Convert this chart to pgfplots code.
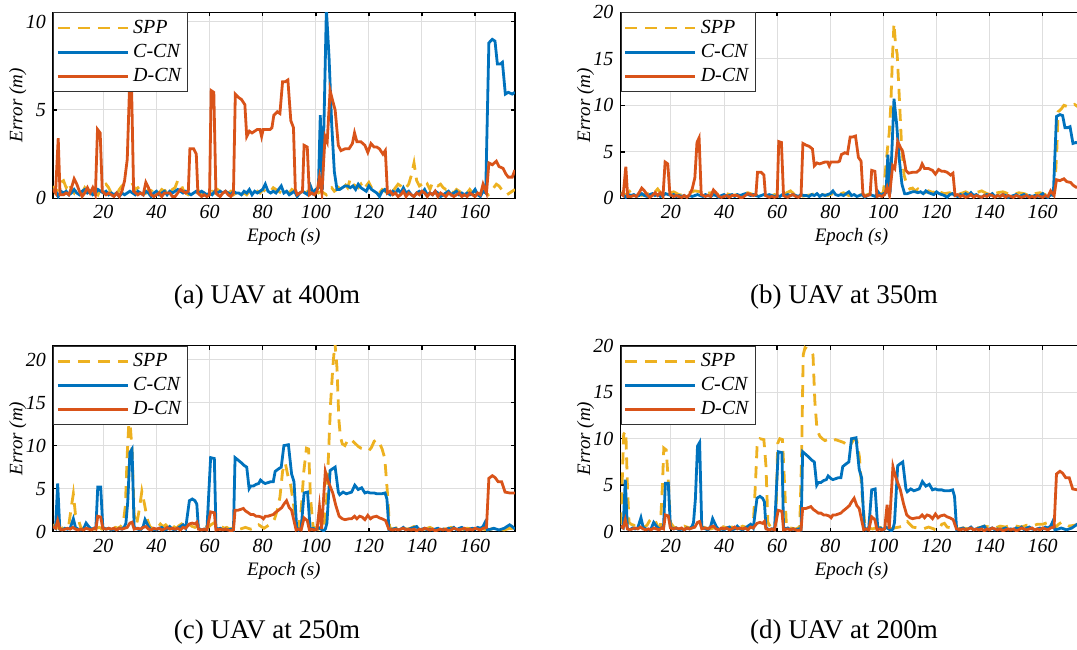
\documentclass[border=0pt]{standalone}
\usepackage{fontspec}
\setmainfont{Liberation Serif}
\usepackage{pgfplots}
\usepackage{pgfplotstable}
\pgfplotsset{compat=1.18}
\definecolor{cspp}{HTML}{EDB120}
\definecolor{cccn}{HTML}{0072BD}
\definecolor{cdcn}{HTML}{D95319}

% C-CN and D-CN for panels (a) and (b)
\pgfplotstableread{
x y
1 0.5
2 0.4
3 0.1
4 0.4
5 0.3
6 0.4
7 0.2
8 0.3
9 0.5
10 0.3
11 0.2
12 0.4
13 0.5
14 0.3
15 0.4
16 0.2
17 0.3
18 0.5
19 0.4
20 0.3
21 0.4
22 0.2
23 0.3
24 0.2
25 0.3
26 0.1
27 0.3
28 0.2
29 0.3
30 0.4
31 0.3
32 0.2
33 0.4
34 0.3
35 0.2
36 0.4
37 0.3
38 0.1
39 0.3
40 0.4
41 0.2
42 0.3
43 0.4
44 0.2
45 0.4
46 0.3
47 0.4
48 0.5
49 0.4
50 0.3
51 0.4
52 0.3
53 0.2
54 0.3
55 0.4
56 0.3
57 0.4
58 0.3
59 0.2
60 0.3
61 0.2
62 0.4
63 0.3
64 0.4
65 0.3
66 0.4
67 0.3
68 0.2
69 0.4
70 0.3
71 0.3
72 0.2
73 0.4
74 0.3
75 0.5
76 0.2
77 0.4
78 0.3
79 0.4
80 0.5
81 0.8
82 0.4
83 0.3
84 0.4
85 0.3
86 0.5
87 0.7
88 0.3
89 0.4
90 0.2
91 0.3
92 0.4
93 0.1
94 0.3
95 0.4
96 0.3
97 0.2
98 0.7
99 0.3
100 0.5
101 0.6
101.7 4.7
102.5 0.5
103.2 5.0
104 10.7
105 8.0
106 4.2
107 1.5
108 0.5
109 0.5
110 0.6
111 0.7
112 0.7
113 0.6
114 0.7
115 0.5
116 0.8
117 0.6
118 0.5
119 0.4
120 0.7
121 0.5
122 0.4
123 0.3
124 0.1
125 0.4
126 0.5
127 0.3
128 0.2
129 0.4
130 0.3
131 0.5
132 0.3
133 0.6
134 0.3
135 0.4
136 0.2
137 0.1
138 0.3
139 0.4
140 0.3
141 0.5
142 0.2
143 0.3
144 0.2
145 0.4
146 0.3
147 0.1
148 0.2
149 0.3
150 0.4
151 0.2
152 0.3
153 0.4
154 0.2
155 0.3
156 0.2
157 0.3
158 0.2
159 0.3
160 0.5
161 0.2
162 0.1
163 0.4
164 0.3
165.2 8.8
166.5 9.0
167.5 8.9
168.4 7.6
169.5 7.6
170.3 7.7
171.4 5.9
172.5 6.0
174 5.9
175 6.0
}\ccnab

\pgfplotstableread{
x y
1 0.5
2 0.3
3 3.4
3.7 0.2
5 0.2
6 0.3
7 0.2
8 0.6
9 1.1
10 0.8
11 0.4
12 0.1
13 0.3
14 0.6
15 0.3
16 0.6
17 0.2
17.8 3.9
18.8 3.7
19.6 0.4
21 0.2
22 0.3
23 0.2
24 0.1
25 0.3
26 0.1
27 0.4
28 1.0
29 2.2
29.8 6.0
30.6 6.5
31.4 0.4
33 0.2
34 0.3
35 0.2
36 0.9
37 0.6
38 0.2
39 0.1
40 0.2
41 0.3
42 0.1
43 0.3
44 0.3
45 0.3
46 0.1
47 0.1
48 0.3
49 0.5
50 0.4
51 0.3
52 0.4
52.6 2.8
54 2.8
55 2.5
55.6 0.3
57 0.1
58 0.2
59 0.1
60 0.2
60.6 6.1
61.6 6.0
62.4 0.3
63 0.2
64 0.1
65 0.3
66 0.4
67 0.2
68 0.1
69 0.3
69.7 5.9
71 5.7
72 5.6
73.3 5.3
74 3.5
75 3.8
76 3.7
77 3.8
78 3.9
79 3.9
79.6 3.5
80.2 3.9
81.5 3.9
82.8 3.9
83.5 4.0
84.2 4.7
85.5 4.9
86.5 4.8
87.5 6.6
88.5 6.6
89.5 6.7
90.6 4.4
91.6 4.0
92.3 0.5
93 0.2
94 0.3
95 0.4
95.6 3.0
96.8 2.9
97.6 0.2
98.5 0.3
99.5 0.2
100.5 0.4
101.4 1.2
102.3 0.3
103.5 3.5
104.3 3.2
105.4 6.1
106.4 5.5
107.3 5.0
108.5 3.0
109.5 2.7
111 2.8
112.5 2.8
113.8 3.1
114.6 3.7
115.5 3.2
117 3.2
118.5 3.0
119.6 2.6
120.8 3.1
122 2.9
123 2.9
124 2.8
125.3 2.5
126.2 2.7
127 0.3
128 0.4
129 0.2
130 0.3
131 0.1
132 0.2
133 0.4
134 0.1
135 0.3
136 0.2
137 0.1
138 0.3
139 0.2
140 0.4
141 0.3
142 0.1
143 0.3
144 0.2
145 0.4
146 0.1
147 0.3
148 0.2
149 0.1
150 0.3
151 0.2
152 0.1
153 0.2
154 0.3
155 0.1
156 0.2
157 0.1
158 0.3
159 0.2
160 0.1
161 0.3
162 0.2
163 0.8
164.3 0.3
165.2 2.0
166.5 1.9
168 2.1
169 1.8
170.5 1.7
171.5 1.4
172.5 1.2
174 1.2
175 1.6
}\dcnab

% SPP, panel (a)
\pgfplotstableread{
x y
1 0.7
2 0.3
3 0.5
4 0.9
5 1.0
6 0.6
7 0.9
8 0.5
9 0.3
10 0.6
11 0.4
12 0.3
13 0.6
14 0.4
15 0.5
16 0.3
17 0.4
18 0.2
19 0.5
20 0.7
21 0.8
22 0.6
23 0.3
24 0.4
25 0.2
26 0.5
27 0.7
28 0.8
29 0.8
30 0.7
31 0.8
32 0.5
33 0.6
34 0.4
35 0.5
36 0.3
37 0.5
38 0.4
39 0.6
40 0.4
41 0.3
42 0.5
43 0.4
44 0.5
45 0.3
46 0.5
47 0.6
48 1.0
49 0.9
50 0.5
51 0.3
52 0.2
53 0.3
54 0.2
55 0.3
56 0.4
57 0.2
58 0.3
59 0.2
60 0.3
61 0.4
62 0.3
63 0.5
64 0.4
65 0.3
66 0.2
67 0.3
68 0.4
69 0.2
70 0.3
71 0.4
72 0.2
73 0.3
74 0.2
75 0.4
76 0.3
77 0.5
78 0.4
79 0.3
80 0.5
81 0.4
82 0.3
83 0.4
84 0.6
85 0.5
86 0.4
87 0.3
88 0.5
89 0.4
90 0.3
91 0.5
92 0.4
93 0.3
94 0.5
95 0.4
96 0.3
97 0.4
98 0.2
99 0.3
100 0.4
101 0.3
102 0.4
103 0.3
104 0.2
105 0.5
106 0.6
107 0.4
108 0.5
109 0.7
110 0.9
111 0.8
112 0.6
113 1.1
114 0.8
115 0.7
116 0.6
117 0.8
118 0.5
119 0.7
120 0.9
121 0.6
122 0.5
123 0.4
124 0.3
125 0.5
126 0.4
127 0.3
128 0.5
129 0.4
130 0.6
131 0.8
132 0.7
133 0.5
134 0.6
135 0.8
136 1.3
137 2.0
138 1.0
139 0.7
140 0.8
141 0.6
142 0.8
143 0.5
144 0.9
145 0.8
146 0.7
147 0.8
148 0.6
149 0.5
150 0.6
151 0.4
152 0.3
153 0.5
154 0.4
155 0.3
156 0.4
157 0.3
158 0.5
159 0.3
160 0.4
161 0.2
162 0.3
163 0.5
164 0.3
165 0.2
166 0.4
167 0.6
168 0.8
169 0.7
170 0.5
171 0.3
172 0.2
173 0.3
174 0.4
175 0.5
}\sppa

% SPP, panel (b)
\pgfplotstableread{
x y
1 0.6
3 0.4
5 0.9
7 0.7
9 0.3
11 0.5
13 0.4
15 1.0
16 0.6
17 0.3
19 0.5
21 0.7
23 0.4
25 0.3
27 0.6
29 0.8
31 0.7
33 0.5
35 0.6
37 0.3
39 0.6
41 0.5
43 0.3
45 0.4
47 0.5
49 0.6
51 0.4
53 0.3
55 0.4
57 0.2
59 0.4
61 0.3
63 0.5
65 0.8
67 0.3
69 0.2
71 0.3
73 0.4
75 0.6
77 0.4
79 0.3
81 0.5
83 0.4
85 0.6
87 0.3
89 0.5
91 0.4
93 0.3
95 0.5
97 0.4
99 0.5
100 0.6
100.8 3.0
101.5 5.2
102.2 7.0
102.8 10.0
103.4 15.0
104 18.8
104.6 16.5
105.2 15.5
105.9 11.5
106.8 6.0
107.8 2.5
108.8 1.5
110 1.0
111 1.1
112 0.8
113 1.0
114 0.7
115 0.5
117 0.8
119 0.6
120 1.0
121 0.7
123 0.5
125 0.6
127 0.3
129 0.5
131 0.7
133 0.4
135 0.6
137 0.8
139 0.5
141 0.4
143 0.6
145 0.7
147 0.5
149 0.4
151 0.6
153 0.5
155 0.3
157 0.5
159 0.6
161 0.4
163 0.5
164.5 0.8
165.3 5.0
165.8 9.3
167 9.6
168 10.0
169 9.9
170 9.8
171 10.0
172 10.1
173 9.9
174 10.0
175 10.0
}\sppb

% C-CN and D-CN for panels (c) and (d)
\pgfplotstableread{
x y
1 0.6
2 0.4
2.8 5.6
3.6 0.3
4.5 0.2
5.5 0.4
6.5 0.3
7.5 0.4
8.7 1.5
9.5 0.5
10.5 0.3
11.5 0.2
12.5 0.3
13.5 1.0
14.5 0.6
15.5 0.3
16.5 0.4
17.2 0.5
17.9 5.2
19 5.2
19.8 0.5
21 0.3
22 0.4
23 0.2
24 0.3
25 0.2
26 0.4
27 0.3
28 0.6
28.5 1.0
29.2 3.5
30 9.2
30.8 9.6
31.6 0.5
33 0.3
34 0.2
35 0.6
35.7 1.4
37 0.6
38 0.2
39 0.3
40 0.2
41 0.4
42 0.5
43 0.2
44 0.3
45 0.6
46 0.3
47 0.2
48 0.4
49 0.6
50 0.8
51 0.4
52.4 3.6
53.5 3.8
54.5 3.6
55.2 3.2
55.8 0.4
57 0.2
58 0.3
59 0.2
60.4 8.6
61.8 8.5
62.4 0.5
63 0.3
64 0.4
65 0.2
66 0.3
67 0.2
68 0.3
69 0.2
69.6 8.6
70.8 8.3
72 8.0
73 7.7
74 7.5
74.9 5.0
75.5 5.3
76.5 5.3
77.5 5.5
78.5 5.6
79.2 6.0
80.3 5.7
81 5.6
82 5.7
83 5.8
84 5.8
84.7 7.0
86 7.3
87 7.5
88 10.0
89.7 10.1
90.9 6.7
91.8 5.8
92.8 0.5
93.5 0.2
94.5 0.4
95.6 4.5
96.9 4.6
97.9 0.3
99 0.4
100 0.2
101 0.5
102 0.3
103 0.1
103.6 0.3
104.2 1.0
105.4 7.1
106.3 7.3
107.3 7.5
108.5 4.6
109 4.3
110.3 4.6
111.5 4.4
112.5 4.5
113.5 4.6
114.7 5.4
116 4.9
117.3 5.1
118.5 4.5
119.5 4.6
120.5 4.5
122 4.5
123 4.4
124.8 4.4
126.1 4.5
126.8 3.8
127.6 0.2
129 0.3
130 0.4
131 0.2
132 0.3
133 0.5
134 0.2
135 0.3
136 0.4
137 0.5
138 0.6
139 0.2
140 0.3
141 0.4
142 0.2
143 0.3
144 0.2
145 0.3
146 0.4
147 0.2
148 0.3
149 0.2
150 0.4
151 0.3
152 0.5
153 0.2
154 0.4
155 0.5
156 0.3
157 0.2
158 0.3
159 0.4
160 0.3
161 0.5
162 0.4
163 0.6
163.8 1.1
164.6 0.2
166 0.3
167 0.4
168 0.3
169 0.2
170 0.3
171 0.4
172 0.6
173 0.8
174 0.6
175 0.3
}\ccncd

\pgfplotstableread{
x y
1 0.6
2 0.4
2.8 1.3
3.6 0.3
4.5 0.2
5.5 0.3
6.5 0.4
7.5 0.3
8.5 0.5
9.5 0.3
10.5 0.2
11.5 0.3
12.5 0.2
13.5 0.4
14.5 0.3
15.5 0.2
16.5 0.4
17.2 0.3
17.9 1.8
19 1.7
19.8 0.4
21 0.3
22 0.4
23 0.3
24 0.4
25 0.2
26 0.4
27 0.3
28 0.4
29 0.5
30 1.0
30.8 1.1
31.6 0.3
33 0.4
34 0.3
35 0.5
36 0.6
37 0.3
38 0.2
39 0.4
40 0.3
41 0.4
42 0.2
43 0.3
44 0.5
45 0.3
46 0.4
47 0.3
48 0.4
49 0.2
50 0.5
51 0.4
52.4 0.9
53.5 1.0
54.5 0.9
55.2 1.1
55.8 0.3
57 0.2
58 0.3
59 0.2
60.4 2.3
61.8 2.2
62.4 0.2
64 0.3
65 0.2
66 0.3
67 0.2
68 0.1
69 0.2
69.6 2.5
70.8 2.5
71.8 2.6
72.7 2.7
73.6 2.4
74.6 2.2
75.5 2.0
76.5 2.0
77.5 1.8
78.4 1.8
79.5 1.7
80.3 1.5
81 1.8
82 1.8
83 1.9
84 2.0
84.7 2.2
86 2.5
87.2 2.8
88 3.2
89 3.6
90 2.8
90.9 2.5
92 1.0
92.6 0.2
93.5 0.3
94.5 0.2
95.6 1.6
96.8 1.3
97.6 0.2
98.5 0.3
99.5 0.2
100.5 0.3
101.4 2.9
102.2 0.3
103.6 7.0
104.5 6.0
105.5 5.2
106.4 4.5
107.6 3.0
108.8 1.8
110 1.5
111 1.4
112.5 1.5
113.5 1.5
114.6 1.8
115.5 1.5
116.5 1.8
117.5 1.7
118.5 1.4
119.6 1.9
120.6 1.5
121.5 1.7
122.9 1.8
124 1.6
125 1.5
126.3 1.3
127.5 0.3
129 0.2
130 0.3
131 0.2
132 0.3
133 0.4
134 0.2
135 0.3
136 0.2
137 0.3
138 0.1
139 0.3
140 0.2
141 0.4
142 0.3
143 0.2
144 0.3
145 0.1
146 0.2
147 0.3
148 0.2
149 0.3
150 0.1
151 0.2
152 0.4
153 0.3
154 0.2
155 0.3
156 0.4
157 0.2
158 0.3
159 0.2
160 0.4
161 0.3
162 0.2
163 0.4
164.3 0.5
165.2 6.2
166.5 6.5
167.5 6.3
168.7 5.8
170 5.8
171.3 4.6
173 4.5
175 4.5
}\dcncd

% SPP, panel (c)
\pgfplotstableread{
x y
1 0.8
2 0.6
3 0.4
4 0.3
5 0.5
6 0.4
7 0.8
8 3.0
8.7 4.4
9.5 2.0
10.5 1.5
11.5 0.5
12.5 0.3
13.5 0.4
14.5 0.3
15.5 0.5
16.5 0.3
17.5 0.4
18.5 0.5
19.5 0.3
20.5 0.4
21.5 0.6
22.5 0.4
23.5 0.3
24.5 0.5
25.5 0.4
26.5 0.6
27.5 1.0
28.3 3.0
29 9.0
29.8 13.8
30.8 9.5
31.6 2.0
32.5 0.8
33.5 2.5
34.5 4.7
35.5 3.2
36.5 1.5
37.5 0.6
38.5 0.4
39.5 0.7
40.5 0.5
41.5 0.9
42.5 0.6
43.5 0.8
44.5 0.5
45.5 0.9
46.5 0.6
47.5 0.4
48.5 0.7
49.5 0.9
50.5 0.6
51.5 0.5
52.5 0.8
53.5 0.6
54.5 0.5
55.5 0.7
56.5 0.6
57.5 0.9
58.5 0.7
59.5 0.5
60.5 0.8
61.5 1.0
62.5 1.1
63.5 0.9
64.5 0.6
65.5 0.4
66.5 0.5
67.5 0.3
68.5 0.4
69.5 0.3
70.5 0.2
71.5 0.3
72.5 0.4
73.5 0.5
74.5 0.4
75.5 0.3
76.5 0.4
77.5 0.5
78.5 0.8
79.5 0.6
80.5 0.4
81.5 0.6
82.5 0.8
83.5 1.0
84.5 1.5
85.5 2.5
86.5 4.0
87.5 7.0
88.5 8.0
89.5 6.5
90.5 5.5
91.5 3.5
92.5 1.0
93.5 0.5
94.5 2.5
95.5 7.0
96.5 9.7
97.3 9.6
98 4.0
99 0.6
100 0.4
101 0.3
102 0.5
103 0.4
104 3.0
104.8 9.0
105.6 15.0
106.4 19.0
107.2 22.0
108 19.0
108.7 13.0
109.3 11.0
110 10.2
111 10.0
112 10.6
113 10.8
114 10.5
115 10.2
116 9.9
117 9.7
118 9.6
119 9.5
120 9.4
121 9.8
122 10.5
123 10.7
124 10.3
125 9.6
126 8.5
127 4.5
127.8 0.5
129 0.3
131 0.5
133 0.4
135 0.3
137 0.6
139 0.4
141 0.3
143 0.5
145 0.2
147 0.4
149 0.3
151 0.5
153 0.3
155 0.2
157 0.4
159 0.3
161 0.5
163 0.3
165 0.2
167 0.4
169 0.3
171 0.2
173 0.4
175 0.3
}\sppc

% SPP, panel (d)
\pgfplotstableread{
x y
1 0.8
1.6 5.0
2.2 10.5
3.0 10.8
3.6 5.0
4.2 1.0
5 0.8
6 0.7
7 0.5
8 0.6
9 0.4
10 0.5
11 0.7
12 1.2
13 1.5
14 1.2
15 0.6
16 0.5
16.8 5.0
17.3 9.0
18.2 8.8
19 5.5
19.8 1.0
21 0.5
23 0.3
25 0.6
27 0.4
29 0.5
31 0.7
33 0.4
35 0.3
37 0.5
39 0.6
41 0.4
43 0.5
45 0.3
47 0.6
49 0.4
50 0.6
51 0.8
51.8 5.0
52.5 9.6
53.5 10.0
55 9.9
55.8 7.0
56.5 1.0
57.5 0.5
58.5 0.4
59.5 1.0
60.2 9.5
61 10.0
62 9.9
62.8 5.0
63.5 0.5
65 0.4
67 0.3
68.5 0.5
69.2 8.0
69.8 19.0
70.5 19.8
71.5 19.6
72.5 19.5
73.5 19.0
74.2 14.0
75 11.0
76 10.3
77 10.0
78 9.8
79 9.9
80 10.0
81 9.8
82 9.9
83 9.8
84 9.7
85 9.6
86 9.4
87 9.2
88 9.5
89 10.0
90 9.8
91 8.0
92 4.0
93 0.8
94 0.4
96 0.3
98 0.5
100 0.4
102 0.3
104 0.4
106 0.5
107 0.6
108 1.0
109 1.1
110 0.8
111 0.5
113 0.4
115 0.3
117 0.5
119 0.3
120 0.1
121 0.3
122 0.8
123 0.9
124 0.5
126 0.4
128 0.3
130 0.4
132 0.3
134 0.5
136 0.4
138 0.6
140 0.5
142 0.4
144 0.6
146 0.5
148 0.7
150 0.6
152 0.5
154 0.7
156 0.6
158 0.8
160 0.8
161 0.9
162 1.0
163 1.2
164 0.8
165 0.5
166 0.8
167 1.0
168 1.0
169 0.8
170 0.6
172 0.7
175 0.9
}\sppd

\pgfplotsset{
  spp/.style={cspp, line width=1.4pt, dash pattern=on 6pt off 4pt},
  ccn/.style={cccn, line width=1.4pt},
  dcn/.style={cdcn, line width=1.4pt},
  errpanel/.style={
    scale only axis, width=231pt, height=93pt,
    anchor=north west,
    xmin=1, xmax=175, ymin=0,
    xtick={20,40,...,160},
    tick align=inside, tick pos=both,
    major tick length=2pt,
    grid=major,
    major grid style={black!13, line width=0.5pt},
    axis line style={line width=0.75pt},
    every tick/.style={black, line width=0.75pt},
    ticklabel style={font=\fontsize{10}{12}\selectfont\itshape},
    /pgf/number format/assume math mode=true,
    xlabel={Epoch (s)}, ylabel={Error (m)},
    label style={font=\fontsize{9.5}{11}\selectfont\itshape},
    xlabel style={at={(axis description cs:0.5,0)}, anchor=center, yshift=-19.5pt},
    ylabel style={at={(axis description cs:0,0.5)}, anchor=center, yshift=17.5pt},
    legend style={at={(0,1)}, anchor=north west, draw=black!80,
      line width=0.5pt, fill=white, inner sep=1.5pt, row sep=0pt,
      font=\fontsize{10}{12}\selectfont\itshape},
    legend cell align=left,
    legend image code/.code={\draw[##1] (0pt,0pt) -- (35pt,0pt);},
  },
}

\begin{document}
\begin{tikzpicture}
\begin{axis}[errpanel, at={(26.45pt,-6.15pt)}, ymax=10.53, ytick={0,5,10}]
\addplot[spp] table {\sppa};
\addplot[ccn] table {\ccnab};
\addplot[dcn] table {\dcnab};
\legend{SPP, C-CN, D-CN}
\end{axis}
\begin{axis}[errpanel, at={(310.25pt,-6.15pt)}, ymax=20, ytick={0,5,10,15,20}]
\addplot[spp] table {\sppb};
\addplot[ccn] table {\ccnab};
\addplot[dcn] table {\dcnab};
\legend{SPP, C-CN, D-CN}
\end{axis}
\begin{axis}[errpanel, at={(26.45pt,-172.85pt)}, ymax=21.6, ytick={0,5,10,15,20}]
\addplot[spp] table {\sppc};
\addplot[ccn] table {\ccncd};
\addplot[dcn] table {\dcncd};
\legend{SPP, C-CN, D-CN}
\end{axis}
\begin{axis}[errpanel, at={(310.25pt,-172.85pt)}, ymax=20, ytick={0,5,10,15,20}]
\addplot[spp] table {\sppd};
\addplot[ccn] table {\ccncd};
\addplot[dcn] table {\dcncd};
\legend{SPP, C-CN, D-CN}
\end{axis}
\begin{scope}[every node/.style={font=\fontsize{13.5}{16}\selectfont}]
\node at (133.5pt,-148.5pt) {(a) UAV at 400m};
\node at (422pt,-148.5pt) {(b) UAV at 350m};
\node at (133.5pt,-316pt) {(c) UAV at 250m};
\node at (422pt,-316pt) {(d) UAV at 200m};
\end{scope}
\pgfresetboundingbox
\path[use as bounding box] (0pt,0pt) rectangle (538.5pt,-324.5pt);
\end{tikzpicture}
\end{document}
